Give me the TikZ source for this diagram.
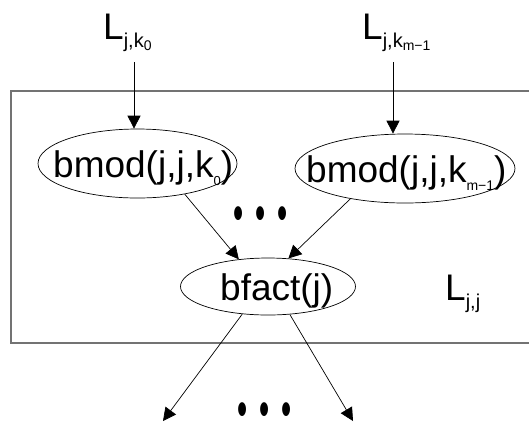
\documentclass[tikz,border=0pt]{standalone}
\usepackage{fontspec}
\setmainfont{Liberation Sans}
\usetikzlibrary{arrows.meta,shapes.geometric}
\newcommand\mysub[3][20]{\raisebox{#2}{\fontsize{#1}{#1}\selectfont #3}}
\newcommand\mydots{\scalebox{0.85}[1.5]{\fontsize{34}{34}\selectfont •\hspace{14pt}•\hspace{14pt}•}}
\begin{document}
\begin{tikzpicture}[x=1pt,y=-1pt,
  arr/.style={-{Triangle[length=13pt,width=13pt]}, line width=0.7pt},
  ell/.style={draw, ellipse, inner sep=0pt, line width=0.7pt},
  lbl/.style={font=\fontsize{37}{37}\selectfont, inner sep=0pt, anchor=base west},
  dotsnode/.style={inner sep=0pt},
  frame/.style={draw=black!55, line width=1.6pt}
]
\useasboundingbox (0,0) rectangle (529,424);
\draw[frame] (530,91) -- (11,91) -- (11,343) -- (530,343);

\node[ell, minimum width=199pt, minimum height=69pt] (e1) at (137.5,163.5) {};
\node[ell, minimum width=220pt, minimum height=69pt] (e2) at (405,168.5) {};
\node[ell, minimum width=175pt, minimum height=57pt] (e3) at (268,286.5) {};

\node[lbl] (t1) at (53,177) {bmod(j,j,k\mysub[13]{-8pt}{0})};
\node[lbl] (t2) at (306,182) {bmod(j,j,k\mysub[14]{-8pt}{m−1})};
\node[lbl] (t3) at (220,300) {bfact(j)};

\node[lbl] (L1) at (103,39) {L\mysub{-8pt}{j,k\mysub[14]{-3pt}{0}}};
\node[lbl] (L2) at (362,39) {L\mysub{-8pt}{j,k\mysub[14]{-3pt}{m−1}}};
\node[lbl] (L3) at (445,300) {L\mysub{-8pt}{j,j}};

\node[dotsnode] (d1) at (261,219) {\mydots};
\node[dotsnode] (d2) at (265,415) {\mydots};

\coordinate (a1) at (134,62);
\coordinate (a2) at (393,62);
\coordinate (b1) at (163,421);
\coordinate (b2) at (353,421);

\draw[arr] (a1) -- (a1 |- e1.north);
\draw[arr] (a2) -- (a2 |- e2.north);
\draw[arr] (e1.-33.6) -- (e3.137.4);
\draw[arr] (e2.209.8) -- (e3.54.9);
\draw[arr] (e3.227.6) -- (b1);
\draw[arr] (e3.-52.3) -- (b2);
\end{tikzpicture}
\end{document}
